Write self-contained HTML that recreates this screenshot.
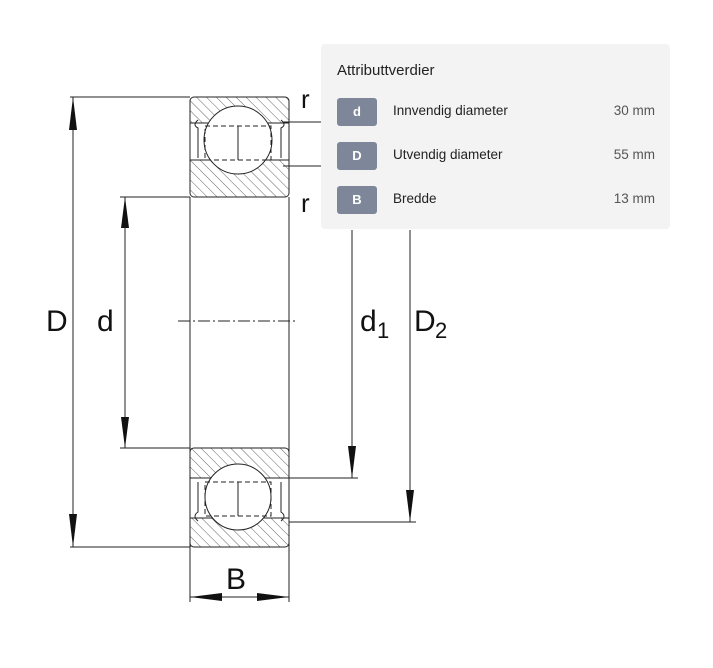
<!DOCTYPE html>
<html><head><meta charset="utf-8"><style>
body{margin:0;width:713px;height:668px;background:#fff;position:relative;overflow:hidden;font-family:"Liberation Sans",sans-serif}
.panel{position:absolute;left:321px;top:44px;width:349px;height:185px;background:#f3f3f3;border-radius:4px}
.t{position:absolute;left:16px;top:18px;font-size:15px;color:#222}
.row{position:absolute;left:16px;width:318px;height:28px}
.b{position:absolute;left:0;top:0;width:40px;height:28px;border-radius:3px;background:#7d8799;color:#fff;font-weight:bold;font-size:13px;text-align:center;line-height:28px}
.l{position:absolute;left:56px;top:5px;font-size:13.5px;color:#222}
.v{position:absolute;right:0;top:5px;font-size:13.5px;color:#555}
</style></head><body>
<svg width="713" height="668" style="position:absolute;left:0;top:0">
<defs>
<pattern id="h" width="7" height="7" patternUnits="userSpaceOnUse" patternTransform="rotate(-45)"><line x1="0" y1="0" x2="0" y2="7" stroke="#666" stroke-width="1"/></pattern>
</defs>
<g stroke="#222" fill="none" stroke-width="1">
<rect x="190" y="97" width="99" height="26" fill="url(#h)" stroke="none"/>
<rect x="190" y="160" width="99" height="37" fill="url(#h)" stroke="none"/>
<rect x="190" y="97" width="99" height="100" rx="4"/>
<line x1="190" y1="123" x2="289" y2="123"/><line x1="190" y1="160" x2="289" y2="160"/>
<circle cx="238" cy="140" r="34" fill="#fff"/>
<rect x="205" y="126" width="66" height="34" stroke-dasharray="5,3"/>
<line x1="238" y1="126" x2="238" y2="160"/>
<path d="M198 120 q-6 5 0 8 v30 M281 120 q6 5 0 8 v30"/>
<rect x="190" y="448" width="99" height="30" fill="url(#h)" stroke="none"/>
<rect x="190" y="518" width="99" height="29" fill="url(#h)" stroke="none"/>
<rect x="190" y="448" width="99" height="99" rx="4"/>
<line x1="190" y1="478" x2="289" y2="478"/><line x1="190" y1="518" x2="289" y2="518"/>
<circle cx="238" cy="497" r="33" fill="#fff"/>
<rect x="205" y="482" width="66" height="34" stroke-dasharray="5,3"/>
<line x1="238" y1="482" x2="238" y2="516"/>
<path d="M198 482 v30 q-6 4 0 9 M281 482 v30 q6 4 0 9"/>
<line x1="190" y1="197" x2="190" y2="602"/><line x1="289" y1="197" x2="289" y2="602"/>
<line x1="178" y1="321" x2="298" y2="321" stroke-dasharray="12,3,2,3"/>
<line x1="70" y1="97" x2="190" y2="97"/><line x1="70" y1="547" x2="190" y2="547"/>
<line x1="73" y1="97" x2="73" y2="547"/>
<line x1="120" y1="197" x2="190" y2="197"/><line x1="120" y1="448" x2="190" y2="448"/>
<line x1="125" y1="197" x2="125" y2="448"/>
<line x1="352" y1="230" x2="352" y2="478"/><line x1="289" y1="478" x2="358" y2="478"/>
<line x1="410" y1="230" x2="410" y2="522"/><line x1="289" y1="522" x2="416" y2="522"/>
<line x1="283" y1="122" x2="321" y2="122"/><line x1="283" y1="166" x2="321" y2="166"/>
<line x1="190" y1="597" x2="289" y2="597"/>
</g>
<g fill="#111">
<polygon points="73,97 69,130 77,130"/><polygon points="73,547 69,514 77,514"/>
<polygon points="125,197 121,228 129,228"/><polygon points="125,448 121,417 129,417"/>
<polygon points="352,478 348,446 356,446"/><polygon points="410,522 406,490 414,490"/>
<polygon points="190,597 222,593 222,601"/><polygon points="289,597 257,593 257,601"/>
</g>
<g font-family="Liberation Sans, DejaVu Sans, sans-serif" fill="#111" font-size="30">
<text x="46" y="331">D</text><text x="97" y="331">d</text>
<text x="360" y="331">d</text><text x="377" y="338" font-size="22">1</text>
<text x="414" y="331">D</text><text x="435" y="338" font-size="22">2</text>
<text x="226" y="589">B</text>
<text x="301" y="108" font-size="26">r</text><text x="301" y="212" font-size="26">r</text>
</g>
</svg>
<div class="panel">
<div class="t">Attributtverdier</div>
<div class="row" style="top:54px"><div class="b">d</div><div class="l">Innvendig diameter</div><div class="v">30 mm</div></div>
<div class="row" style="top:98px"><div class="b">D</div><div class="l">Utvendig diameter</div><div class="v">55 mm</div></div>
<div class="row" style="top:142px"><div class="b">B</div><div class="l">Bredde</div><div class="v">13 mm</div></div>
</div>
</body></html>
